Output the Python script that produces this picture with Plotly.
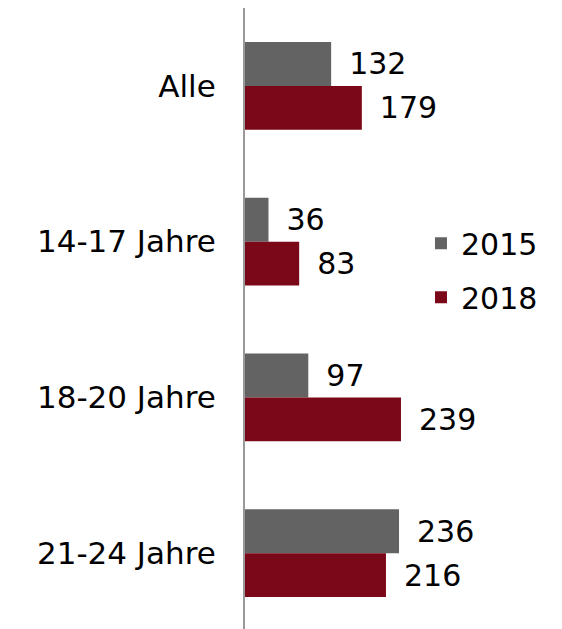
import plotly.graph_objects as go

categories = ["Alle", "14-17 Jahre", "18-20 Jahre", "21-24 Jahre"]
values_2015 = [132, 36, 97, 236]
values_2018 = [179, 83, 239, 216]
series_names = ["2015", "2018"]
colors = ["#636363", "#7A0819"]

fig = go.Figure()
for name, vals, col in zip(series_names, [values_2015, values_2018], colors):
    fig.add_trace(go.Bar(
        y=categories, x=vals, name=name, orientation="h",
        legendgroup=name,
        marker=dict(color=col, line=dict(width=0)),
        text=[f"\u2002{v}" for v in vals], textposition="outside",
        textfont=dict(size=30, color="#000000"),
        cliponaxis=False,
    ))

fig.update_layout(
    width=562, height=629,
    margin=dict(l=237, r=0, t=0, b=6, autoexpand=False),
    barmode="group", bargap=0.435, bargroupgap=0,
    plot_bgcolor="white", paper_bgcolor="white",
    font=dict(family="DejaVu Sans, Verdana, sans-serif", size=30, color="#000000"),
    showlegend=True,
    legend=dict(x=0.5415, y=0.579, xanchor="left", yanchor="middle",
                traceorder="grouped", tracegroupgap=12, font=dict(size=30),
                bgcolor="rgba(0,0,0,0)", itemwidth=30),
    xaxis=dict(range=[0, 498], showticklabels=False, showgrid=False,
               zeroline=False, showline=False, automargin=False),
    yaxis=dict(autorange="reversed", showgrid=False, zeroline=False,
               showline=True, linecolor="#999999", linewidth=2,
               ticks="", ticklabelstandoff=21, automargin=False,
               tickfont=dict(size=31)),
)

fig.write_html("out.html")
